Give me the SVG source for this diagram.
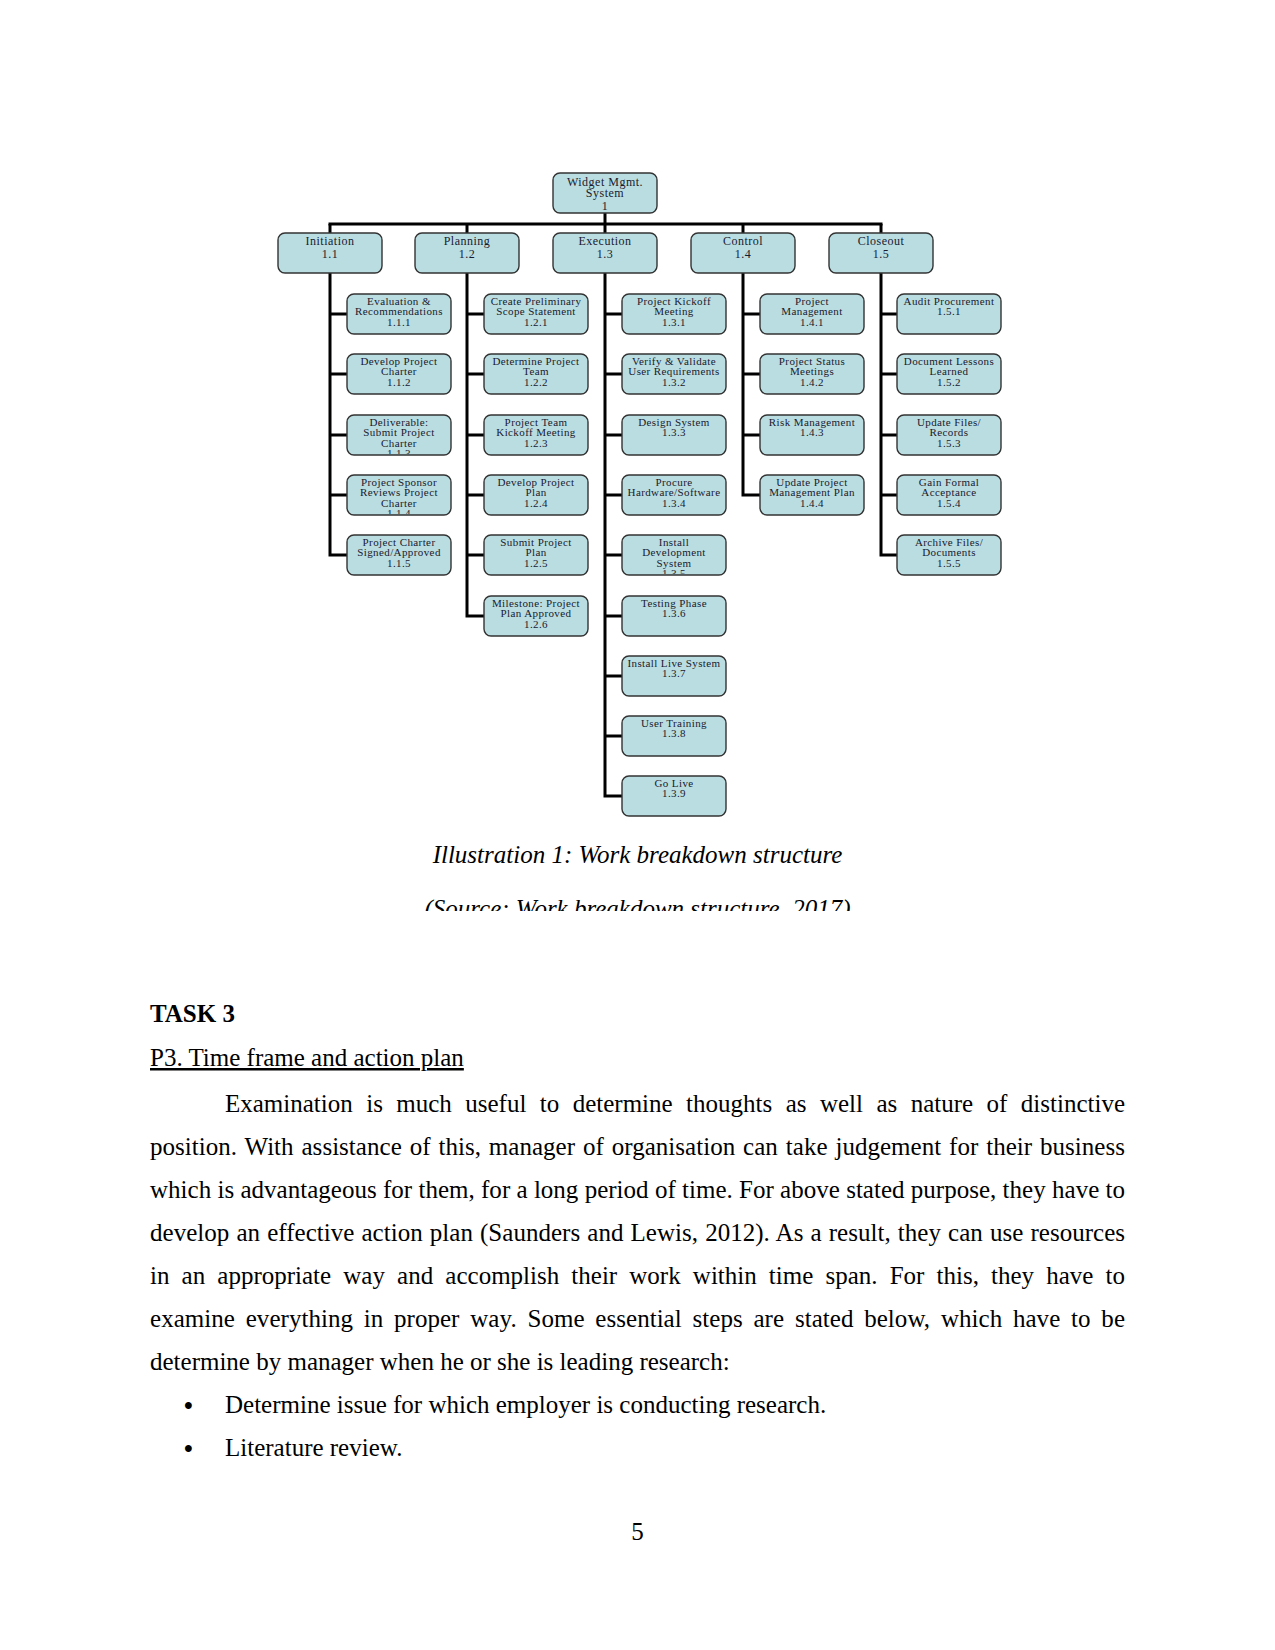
<svg xmlns="http://www.w3.org/2000/svg" width="1275" height="1650" viewBox="0 0 1275 1650">
<style>
.box{fill:#b9dde1;stroke:#333;stroke-width:1.4}
.bt{font-family:"Liberation Serif","Times New Roman",serif;font-size:11px;letter-spacing:0.4px;fill:#1a1a2e;text-anchor:middle}
.lt{font-family:"Liberation Serif","Times New Roman",serif;font-size:12px;letter-spacing:0.5px;fill:#1a1a2e;text-anchor:middle}
.con{stroke:#000;stroke-width:3;fill:none}
.body{font-family:"Liberation Serif","Times New Roman",serif;font-size:25px;fill:#000}
.cap{font-family:"Liberation Serif","Times New Roman",serif;font-size:25px;font-style:italic;fill:#000;text-anchor:middle}
</style>
<defs>
<clipPath id="c113"><rect x="347" y="415" width="104" height="39"/></clipPath>
<clipPath id="c114"><rect x="347" y="475" width="104" height="39"/></clipPath>
<clipPath id="c135"><rect x="622" y="535" width="104" height="39"/></clipPath>
<clipPath id="csrc"><rect x="0" y="880" width="1275" height="31"/></clipPath>
</defs>
<rect width="1275" height="1650" fill="#fff"/>

<g id="connectors">
<line class="con" x1="605" y1="213" x2="605" y2="224"/>
<line class="con" x1="328.5" y1="224" x2="882.5" y2="224"/>
<line class="con" x1="330" y1="224" x2="330" y2="233"/>
<line class="con" x1="467" y1="224" x2="467" y2="233"/>
<line class="con" x1="605" y1="224" x2="605" y2="233"/>
<line class="con" x1="743" y1="224" x2="743" y2="233"/>
<line class="con" x1="881" y1="224" x2="881" y2="233"/>
<path class="con" d="M330 273V555.5M328.5 314H347M328.5 374H347M328.5 435H347M328.5 495H347M328.5 555H347"/>
<path class="con" d="M467 273V616.5M465.5 314H484M465.5 374H484M465.5 435H484M465.5 495H484M465.5 555H484M465.5 616H484"/>
<path class="con" d="M605 273V797.5M603.5 314H622M603.5 374H622M603.5 435H622M603.5 495H622M603.5 555H622M603.5 616H622M603.5 676H622M603.5 736H622M603.5 796H622"/>
<path class="con" d="M743 273V495.5M741.5 314H760M741.5 374H760M741.5 435H760M741.5 495H760"/>
<path class="con" d="M881 273V555.5M879.5 314H897M879.5 374H897M879.5 435H897M879.5 495H897M879.5 555H897"/>
</g>

<g id="n1"><rect class="box" x="553" y="173" width="104" height="40" rx="7"/><text class="lt" x="605" y="185.5">Widget Mgmt.</text><text class="lt" x="605" y="197">System</text><text class="lt" x="605" y="209.5">1</text></g>

<g id="n1_1"><rect class="box" x="278" y="233" width="104" height="40" rx="7"/><text class="lt" x="330" y="245">Initiation</text><text class="lt" x="330" y="258">1.1</text></g>
<g id="n1_2"><rect class="box" x="415" y="233" width="104" height="40" rx="7"/><text class="lt" x="467" y="245">Planning</text><text class="lt" x="467" y="258">1.2</text></g>
<g id="n1_3"><rect class="box" x="553" y="233" width="104" height="40" rx="7"/><text class="lt" x="605" y="245">Execution</text><text class="lt" x="605" y="258">1.3</text></g>
<g id="n1_4"><rect class="box" x="691" y="233" width="104" height="40" rx="7"/><text class="lt" x="743" y="245">Control</text><text class="lt" x="743" y="258">1.4</text></g>
<g id="n1_5"><rect class="box" x="829" y="233" width="104" height="40" rx="7"/><text class="lt" x="881" y="245">Closeout</text><text class="lt" x="881" y="258">1.5</text></g>

<g id="n1_1_1"><rect class="box" x="347" y="294" width="104" height="40" rx="7"/><text class="bt" x="399" y="304.5">Evaluation &amp;</text><text class="bt" x="399" y="315">Recommendations</text><text class="bt" x="399" y="325.5">1.1.1</text></g>
<g id="n1_1_2"><rect class="box" x="347" y="354" width="104" height="40" rx="7"/><text class="bt" x="399" y="364.5">Develop Project</text><text class="bt" x="399" y="375">Charter</text><text class="bt" x="399" y="385.5">1.1.2</text></g>
<g id="n1_1_3"><rect class="box" x="347" y="415" width="104" height="40" rx="7"/><g clip-path="url(#c113)"><text class="bt" x="399" y="425.5">Deliverable:</text><text class="bt" x="399" y="436">Submit Project</text><text class="bt" x="399" y="446.5">Charter</text><text class="bt" x="399" y="457">1.1.3</text></g></g>
<g id="n1_1_4"><rect class="box" x="347" y="475" width="104" height="40" rx="7"/><g clip-path="url(#c114)"><text class="bt" x="399" y="485.5">Project Sponsor</text><text class="bt" x="399" y="496">Reviews Project</text><text class="bt" x="399" y="506.5">Charter</text><text class="bt" x="399" y="517">1.1.4</text></g></g>
<g id="n1_1_5"><rect class="box" x="347" y="535" width="104" height="40" rx="7"/><text class="bt" x="399" y="545.5">Project Charter</text><text class="bt" x="399" y="556">Signed/Approved</text><text class="bt" x="399" y="566.5">1.1.5</text></g>

<g id="n1_2_1"><rect class="box" x="484" y="294" width="104" height="40" rx="7"/><text class="bt" x="536" y="304.5">Create Preliminary</text><text class="bt" x="536" y="315">Scope Statement</text><text class="bt" x="536" y="325.5">1.2.1</text></g>
<g id="n1_2_2"><rect class="box" x="484" y="354" width="104" height="40" rx="7"/><text class="bt" x="536" y="364.5">Determine Project</text><text class="bt" x="536" y="375">Team</text><text class="bt" x="536" y="385.5">1.2.2</text></g>
<g id="n1_2_3"><rect class="box" x="484" y="415" width="104" height="40" rx="7"/><text class="bt" x="536" y="425.5">Project Team</text><text class="bt" x="536" y="436">Kickoff Meeting</text><text class="bt" x="536" y="446.5">1.2.3</text></g>
<g id="n1_2_4"><rect class="box" x="484" y="475" width="104" height="40" rx="7"/><text class="bt" x="536" y="485.5">Develop Project</text><text class="bt" x="536" y="496">Plan</text><text class="bt" x="536" y="506.5">1.2.4</text></g>
<g id="n1_2_5"><rect class="box" x="484" y="535" width="104" height="40" rx="7"/><text class="bt" x="536" y="545.5">Submit Project</text><text class="bt" x="536" y="556">Plan</text><text class="bt" x="536" y="566.5">1.2.5</text></g>
<g id="n1_2_6"><rect class="box" x="484" y="596" width="104" height="40" rx="7"/><text class="bt" x="536" y="606.5">Milestone: Project</text><text class="bt" x="536" y="617">Plan Approved</text><text class="bt" x="536" y="627.5">1.2.6</text></g>

<g id="n1_3_1"><rect class="box" x="622" y="294" width="104" height="40" rx="7"/><text class="bt" x="674" y="304.5">Project Kickoff</text><text class="bt" x="674" y="315">Meeting</text><text class="bt" x="674" y="325.5">1.3.1</text></g>
<g id="n1_3_2"><rect class="box" x="622" y="354" width="104" height="40" rx="7"/><text class="bt" x="674" y="364.5">Verify &amp; Validate</text><text class="bt" x="674" y="375">User Requirements</text><text class="bt" x="674" y="385.5">1.3.2</text></g>
<g id="n1_3_3"><rect class="box" x="622" y="415" width="104" height="40" rx="7"/><text class="bt" x="674" y="425.5">Design System</text><text class="bt" x="674" y="436">1.3.3</text></g>
<g id="n1_3_4"><rect class="box" x="622" y="475" width="104" height="40" rx="7"/><text class="bt" x="674" y="485.5">Procure</text><text class="bt" x="674" y="496">Hardware/Software</text><text class="bt" x="674" y="506.5">1.3.4</text></g>
<g id="n1_3_5"><rect class="box" x="622" y="535" width="104" height="40" rx="7"/><g clip-path="url(#c135)"><text class="bt" x="674" y="545.5">Install</text><text class="bt" x="674" y="556">Development</text><text class="bt" x="674" y="566.5">System</text><text class="bt" x="674" y="577">1.3.5</text></g></g>
<g id="n1_3_6"><rect class="box" x="622" y="596" width="104" height="40" rx="7"/><text class="bt" x="674" y="606.5">Testing Phase</text><text class="bt" x="674" y="617">1.3.6</text></g>
<g id="n1_3_7"><rect class="box" x="622" y="656" width="104" height="40" rx="7"/><text class="bt" x="674" y="666.5">Install Live System</text><text class="bt" x="674" y="677">1.3.7</text></g>
<g id="n1_3_8"><rect class="box" x="622" y="716" width="104" height="40" rx="7"/><text class="bt" x="674" y="726.5">User Training</text><text class="bt" x="674" y="737">1.3.8</text></g>
<g id="n1_3_9"><rect class="box" x="622" y="776" width="104" height="40" rx="7"/><text class="bt" x="674" y="786.5">Go Live</text><text class="bt" x="674" y="797">1.3.9</text></g>

<g id="n1_4_1"><rect class="box" x="760" y="294" width="104" height="40" rx="7"/><text class="bt" x="812" y="304.5">Project</text><text class="bt" x="812" y="315">Management</text><text class="bt" x="812" y="325.5">1.4.1</text></g>
<g id="n1_4_2"><rect class="box" x="760" y="354" width="104" height="40" rx="7"/><text class="bt" x="812" y="364.5">Project Status</text><text class="bt" x="812" y="375">Meetings</text><text class="bt" x="812" y="385.5">1.4.2</text></g>
<g id="n1_4_3"><rect class="box" x="760" y="415" width="104" height="40" rx="7"/><text class="bt" x="812" y="425.5">Risk Management</text><text class="bt" x="812" y="436">1.4.3</text></g>
<g id="n1_4_4"><rect class="box" x="760" y="475" width="104" height="40" rx="7"/><text class="bt" x="812" y="485.5">Update Project</text><text class="bt" x="812" y="496">Management Plan</text><text class="bt" x="812" y="506.5">1.4.4</text></g>

<g id="n1_5_1"><rect class="box" x="897" y="294" width="104" height="40" rx="7"/><text class="bt" x="949" y="304.5">Audit Procurement</text><text class="bt" x="949" y="315">1.5.1</text></g>
<g id="n1_5_2"><rect class="box" x="897" y="354" width="104" height="40" rx="7"/><text class="bt" x="949" y="364.5">Document Lessons</text><text class="bt" x="949" y="375">Learned</text><text class="bt" x="949" y="385.5">1.5.2</text></g>
<g id="n1_5_3"><rect class="box" x="897" y="415" width="104" height="40" rx="7"/><text class="bt" x="949" y="425.5">Update Files/</text><text class="bt" x="949" y="436">Records</text><text class="bt" x="949" y="446.5">1.5.3</text></g>
<g id="n1_5_4"><rect class="box" x="897" y="475" width="104" height="40" rx="7"/><text class="bt" x="949" y="485.5">Gain Formal</text><text class="bt" x="949" y="496">Acceptance</text><text class="bt" x="949" y="506.5">1.5.4</text></g>
<g id="n1_5_5"><rect class="box" x="897" y="535" width="104" height="40" rx="7"/><text class="bt" x="949" y="545.5">Archive Files/</text><text class="bt" x="949" y="556">Documents</text><text class="bt" x="949" y="566.5">1.5.5</text></g>

<g id="caption">
<text class="cap" x="637.5" y="863">Illustration 1: Work breakdown structure</text>
<g clip-path="url(#csrc)"><text class="cap" x="637.5" y="917">(Source: Work breakdown structure, 2017)</text></g>
</g>

<g id="page-text">
<text class="body" x="150" y="1022" font-weight="bold" font-size="29">TASK 3</text>
<text class="body" x="150" y="1066" text-decoration="underline">P3. Time frame and action plan</text>
<text class="body" x="225" y="1112" word-spacing="7.2" textLength="900" lengthAdjust="spacing">Examination is much useful to determine thoughts as well as nature of distinctive</text>
<text class="body" x="150" y="1155" word-spacing="1.6" textLength="975" lengthAdjust="spacing">position. With assistance of this, manager of organisation can take judgement for their business</text>
<text class="body" x="150" y="1198" textLength="975" lengthAdjust="spacing">which is advantageous for them, for a long period of time. For above stated purpose, they have to</text>
<text class="body" x="150" y="1241" word-spacing="0.85" textLength="975" lengthAdjust="spacing">develop an effective action plan (Saunders and Lewis, 2012). As a result, they can use resources</text>
<text class="body" x="150" y="1284" word-spacing="5.9" textLength="975" lengthAdjust="spacing">in an appropriate way and accomplish their work within time span. For this, they have to</text>
<text class="body" x="150" y="1327" word-spacing="4.5" textLength="975" lengthAdjust="spacing">examine everything in proper way. Some essential steps are stated below, which have to be</text>
<text class="body" x="150" y="1370">determine by manager when he or she is leading research:</text>
<text class="body" x="184" y="1414" font-size="30" font-weight="bold">•</text>
<text class="body" x="225" y="1413">Determine issue for which employer is conducting research.</text>
<text class="body" x="184" y="1457" font-size="30" font-weight="bold">•</text>
<text class="body" x="225" y="1456">Literature review.</text>
<text class="body" x="637.5" y="1540" text-anchor="middle">5</text>
</g>
</svg>
